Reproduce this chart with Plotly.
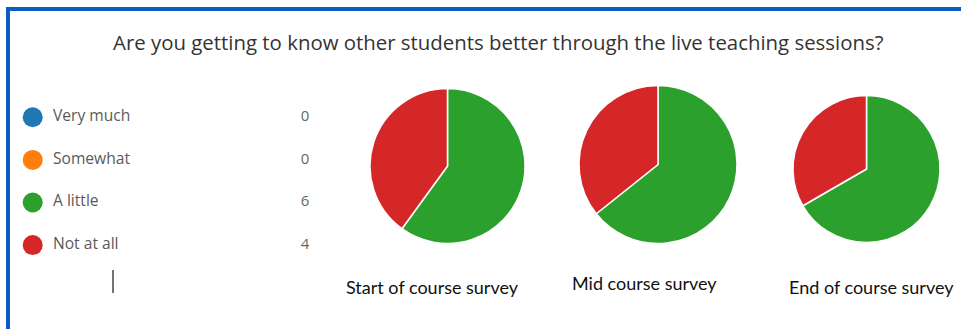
import plotly.graph_objects as go

W, H = 961, 329

title = "Are you getting to know other students better through the live teaching sessions?"
categories = ["Very much", "Somewhat", "A little", "Not at all"]
colors = ["#1f77b4", "#ff7f0e", "#2ca02c", "#d62728"]
legend_counts = [0, 0, 6, 4]

survey_names = ["Start of course survey", "Mid course survey", "End of course survey"]
start_values = [0, 0, 6, 4]
mid_values = [0, 0, 9, 5]
end_values = [0, 0, 8, 4]
survey_values = [start_values, mid_values, end_values]

# layout constants (pixels)
pie_geom = [(447.5, 166, 155), (658, 164.5, 158), (866.5, 169, 147)]
label_pos = [(432, 287), (644, 283), (871, 287)]

def px(x):
    return x / W

def py(y):
    return 1 - y / H

fig = go.Figure()

for vals, (cx, cy, d), name in zip(survey_values, pie_geom, survey_names):
    r = d / 2
    fig.add_trace(go.Pie(
        labels=categories, values=vals, name=name,
        marker=dict(colors=colors, line=dict(color="white", width=1.5)),
        sort=False, direction="clockwise", rotation=0,
        textinfo="none", hoverinfo="label+value", showlegend=False,
        domain=dict(x=[px(cx - r), px(cx + r)], y=[py(cy + r), py(cy - r)]),
    ))

# legend list as scatter on hidden axes
row_top, row_step = 117.3, 42.6
dom_top = row_top - row_step / 2
dom_bot = dom_top + row_step * len(categories)
fig.add_trace(go.Scatter(
    x=[32.7] * len(categories), y=categories, mode="markers",
    marker=dict(size=20, color=colors, line=dict(width=0)),
    hoverinfo="skip", showlegend=False, xaxis="x", yaxis="y",
))
fig.add_trace(go.Scatter(
    x=[53] * len(categories), y=categories, mode="text", text=categories,
    textposition="middle right",
    textfont=dict(family="Open Sans", size=15.6, color="#5a5a5a"),
    hoverinfo="skip", showlegend=False, xaxis="x", yaxis="y",
))
fig.add_trace(go.Scatter(
    x=[305] * len(categories), y=categories, mode="text", text=[str(c) for c in legend_counts],
    textposition="middle center",
    textfont=dict(family="Open Sans", size=15, color="#666666"),
    hoverinfo="skip", showlegend=False, xaxis="x", yaxis="y",
))

annotations = [dict(
    text=title, x=px(498.5), y=py(42), xref="paper", yref="paper",
    xanchor="center", yanchor="middle", showarrow=False,
    font=dict(family="Open Sans", size=20.4, color="#333333"),
)]
for name, (lx, ly) in zip(survey_names, label_pos):
    annotations.append(dict(
        text=name, x=px(lx), y=py(ly), xref="paper", yref="paper",
        xanchor="center", yanchor="middle", showarrow=False,
        font=dict(family="Lato", size=18, color="#111111"),
    ))

border = "#0a5bc4"
shapes = [
    dict(type="rect", xref="paper", yref="paper", x0=px(6), x1=px(961), y0=py(11), y1=py(7),
         fillcolor=border, line=dict(width=0)),
    dict(type="rect", xref="paper", yref="paper", x0=px(6), x1=px(10), y0=py(329), y1=py(7),
         fillcolor=border, line=dict(width=0)),
    dict(type="line", xref="paper", yref="paper", x0=px(113), x1=px(113), y0=py(293), y1=py(270),
         line=dict(color="#444444", width=1.5)),
]

fig.update_layout(
    width=W, height=H, margin=dict(l=0, r=0, t=0, b=0),
    paper_bgcolor="white", plot_bgcolor="white",
    xaxis=dict(domain=[0, px(340)], range=[0, 340], visible=False, fixedrange=True),
    yaxis=dict(domain=[py(dom_bot), py(dom_top)], type="category",
               categoryorder="array", categoryarray=categories,
               range=[len(categories) - 0.5, -0.5], visible=False, fixedrange=True),
    annotations=annotations, shapes=shapes,
)

fig.write_html("out.html")
